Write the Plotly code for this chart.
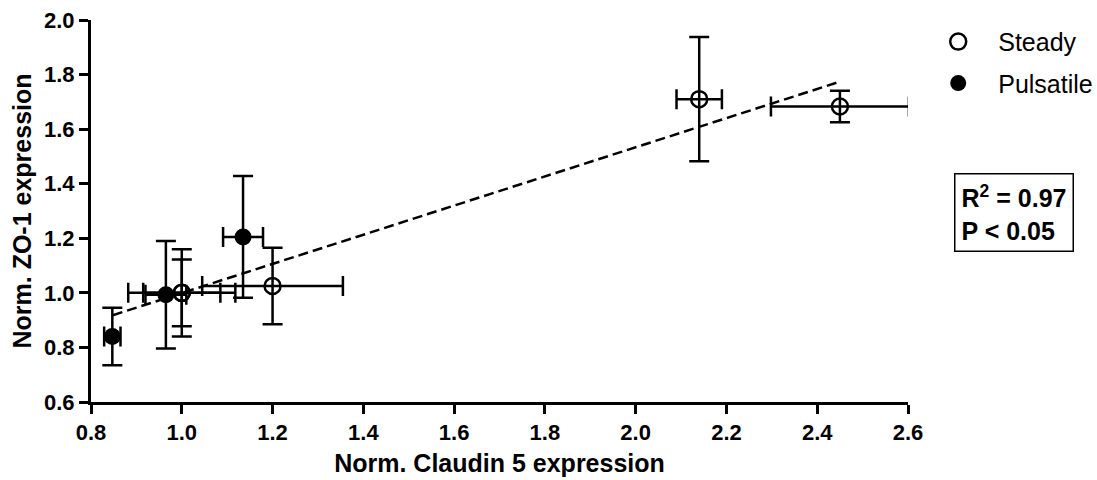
import plotly.graph_objects as go

# Steady condition (open circles)
steady_x = [1.0, 1.0, 1.2, 2.14, 2.45]
steady_y = [1.0, 1.0, 1.025, 1.71, 1.683]
steady_xerr = [0.118, 0.085, 0.155, 0.05, 0.152]
steady_yerr = [0.16, 0.122, 0.14, 0.228, 0.058]

# Pulsatile condition (filled circles)
pulsatile_x = [0.847, 0.965, 1.135]
pulsatile_y = [0.84, 0.993, 1.205]
pulsatile_xerr = [0.018, 0.045, 0.044]
pulsatile_yerr = [0.105, 0.197, 0.223]

# Linear regression line endpoints
fit_x = [0.848, 2.45]
fit_y = [0.918, 1.774]

x_ticks = [0.8, 1.0, 1.2, 1.4, 1.6, 1.8, 2.0, 2.2, 2.4, 2.6]
y_ticks = [0.6, 0.8, 1.0, 1.2, 1.4, 1.6, 1.8, 2.0]

FONT = "Liberation Sans, Arial, sans-serif"

fig = go.Figure()

fig.add_trace(go.Scatter(
    x=fit_x, y=fit_y, mode="lines",
    line=dict(color="black", width=2.5, dash="10px,5px"),
    showlegend=False, hoverinfo="skip"))

err_style = dict(type="data", color="black", thickness=2.5, width=10)

fig.add_trace(go.Scatter(
    x=steady_x, y=steady_y, mode="markers", name="Steady",
    legendgroup="steady",
    marker=dict(symbol="circle-open", size=16, color="black",
                line=dict(width=2.5, color="black")),
    error_x=dict(array=steady_xerr, **err_style),
    error_y=dict(array=steady_yerr, **err_style)))

fig.add_trace(go.Scatter(
    x=pulsatile_x, y=pulsatile_y, mode="markers", name="Pulsatile",
    legendgroup="pulsatile",
    marker=dict(symbol="circle", size=17, color="black"),
    error_x=dict(array=pulsatile_xerr, **err_style),
    error_y=dict(array=pulsatile_yerr, **err_style)))

axis_common = dict(
    showline=True, linecolor="black", linewidth=3,
    ticks="outside", ticklen=9, tickwidth=3, tickcolor="black",
    showgrid=False, zeroline=False, automargin=False,
    tickfont=dict(family=FONT, size=22, color="black", weight="bold"),
)

fig.update_xaxes(
    range=[0.8, 2.6], tickvals=x_ticks, ticktext=[f"{v:.1f}" for v in x_ticks],
    title=dict(text="Norm. Claudin 5 expression",
               font=dict(family=FONT, size=25, color="black", weight="bold"),
               standoff=11),
    **axis_common)
fig.update_yaxes(
    range=[0.6, 2.0], tickvals=y_ticks, ticktext=[f"{v:.1f}" for v in y_ticks],
    title=dict(text="Norm. ZO-1 expression",
               font=dict(family=FONT, size=25, color="black", weight="bold"),
               standoff=6),
    **axis_common)

fig.add_annotation(
    xref="paper", yref="paper", x=1.13, y=0.497,
    xanchor="center", yanchor="middle",
    text="R<sup>2</sup> = 0.97<br>P &lt; 0.05",
    showarrow=False, align="left",
    font=dict(family=FONT, size=25, color="black", weight="bold"),
    bordercolor="black", borderwidth=1.5, borderpad=6, bgcolor="white")

fig.update_layout(
    width=1097, height=480,
    margin=dict(l=91, r=189, t=20, b=78, autoexpand=False),
    plot_bgcolor="white", paper_bgcolor="white",
    font=dict(family=FONT, color="black"),
    legend=dict(x=1.0125, y=1.003, xanchor="left", yanchor="top",
                font=dict(family=FONT, size=25, color="black"),
                tracegroupgap=6, itemsizing="trace", itemwidth=70,
                bgcolor="rgba(0,0,0,0)"),
)

fig.write_html("out.html")
